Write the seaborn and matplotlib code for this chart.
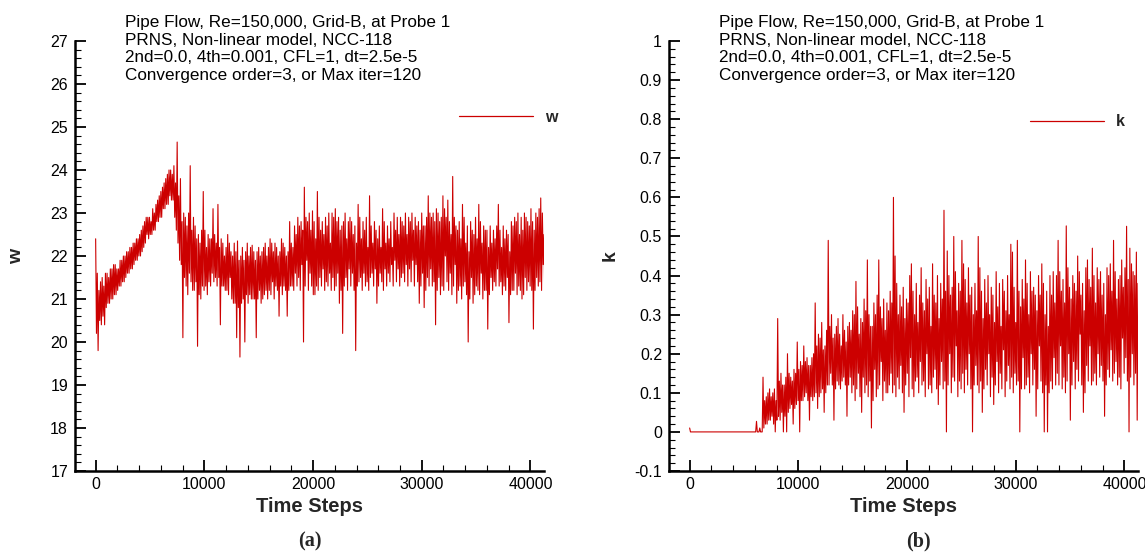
import numpy as np
import pandas as pd
import matplotlib
matplotlib.use("Agg")
import matplotlib.pyplot as plt
from matplotlib.ticker import MultipleLocator, AutoMinorLocator, FuncFormatter
import seaborn as sns

# Probe-1 history: for every block of STEP solver time steps the local
# peak (first half-block) and trough (second half-block) are stored.
STEP = 150

w_peaks = [
    22.4, 21.6, 21.2, 21.4, 21.5, 21.3, 21.6, 21.6, 21.5, 21.7, 21.7, 21.8, 21.8, 21.7,
    21.7, 21.9, 21.9, 22.0, 22.0, 22.1, 22.1, 22.2, 22.2, 22.3, 22.3, 22.4, 22.4,
    22.5, 22.6, 22.7, 22.8, 22.9, 22.9, 22.9, 22.8, 23.1, 23.0, 23.2, 23.3, 23.4,
    23.5, 23.6, 23.7, 23.8, 23.9, 24.0, 24.0, 23.9, 24.1, 23.7, 24.65, 23.4, 23.8,
    22.8, 23.0, 22.9, 22.7, 23.0, 24.1, 22.6, 22.9, 22.7, 22.4, 22.5, 22.3, 22.6,
    23.5, 22.6, 22.2,
    22.5, 22.4, 22.4, 23.1, 22.5, 22.3, 23.2, 22.2, 22.4, 22.3, 22.0, 22.2, 22.5,
    22.3, 22.1, 22.0,
    22.3, 22.1, 22.35, 21.9, 22.0, 22.2, 21.9, 22.1, 22.3, 22.0, 22.2, 22.25, 22.1,
    21.9, 22.1, 22.2, 22.0, 22.1, 22.2, 22.3, 22.0,
    22.2, 22.4, 22.3, 22.1, 22.3, 22.2, 22.0, 22.1, 22.4, 22.3, 22.2, 22.0, 22.1,
    22.8, 22.3, 22.2,
    22.7, 22.5, 22.9, 22.7, 22.8, 22.6, 23.6, 22.9, 22.8, 23.0, 22.6, 23.05,
    22.8, 22.4, 23.5, 22.9, 22.6, 22.8, 22.5, 22.9, 22.7, 23.0, 22.3,
    23.0, 22.9, 23.1, 22.8, 22.9, 22.6, 22.7, 22.8, 23.0, 22.4, 22.8, 22.9,
    22.8, 22.5, 22.7, 22.3, 23.2, 22.9, 22.4, 22.8, 22.6, 22.9, 22.2, 23.4,
    22.7, 22.3, 22.8, 22.6, 22.4, 22.7, 22.2, 23.1, 22.8, 22.3, 22.7, 22.4, 22.8, 22.2,
    23.0, 22.6, 22.9, 22.5, 22.9, 22.8, 22.7, 23.0, 22.5, 22.9, 22.8, 23.0, 22.6,
    22.9, 22.7,
    22.8, 22.6, 23.0, 22.7, 22.7, 22.9, 23.4, 23.0,
    22.9, 23.0, 22.8, 23.1, 23.0, 22.8, 22.9, 23.4, 23.1,
    22.9, 23.3, 22.8, 22.5, 23.85, 22.9, 22.7, 22.6, 22.8, 22.4, 23.2, 22.9, 22.3,
    22.7, 22.1,
    22.8, 22.6, 22.5, 22.9, 22.4, 23.2, 22.8, 22.3, 22.7, 22.6, 22.6, 22.2, 22.7,
    22.3, 22.6, 22.4, 22.7, 23.2, 22.6, 22.2, 22.7, 22.4, 22.6, 22.5, 22.1,
    22.8, 22.7, 22.9, 22.8, 23.0, 22.5, 22.9, 22.6, 23.0, 22.9, 22.8, 22.7, 23.1,
    22.8, 22.6, 23.0, 22.9, 23.1, 23.35, 23.0, 22.5,
]

w_troughs = [
    20.2, 19.8, 20.5, 20.4, 20.6, 20.4, 20.8, 20.9, 20.9, 21.0, 21.0, 21.1, 21.1, 21.2,
    21.3, 21.3, 21.4, 21.4, 21.5, 21.6, 21.6, 21.7, 21.7, 21.8, 21.9, 21.9, 22.0,
    22.0, 22.1, 22.2, 22.3, 22.5, 22.4, 22.5, 22.5, 22.6, 22.6, 22.8, 22.8, 22.9,
    22.9, 23.1, 23.1, 23.2, 23.2, 23.4, 23.3, 23.3, 22.9, 22.6, 22.3, 21.9, 21.8,
    20.1, 21.5, 21.3, 21.1, 21.6, 21.4, 21.2, 21.2, 21.4, 19.9, 21.1, 21.0, 21.3,
    21.2, 21.3, 21.1,
    21.4, 21.3, 21.6, 21.4, 21.5, 21.3, 21.5, 20.4, 21.3, 21.3, 21.2, 21.2, 21.1,
    21.5, 21.0, 20.9,
    20.9, 20.1, 20.8, 19.65, 20.9, 21.0, 20.0, 21.1, 20.9, 21.1, 21.0, 21.0, 21.0,
    20.1, 21.0, 21.2, 20.9, 21.0, 21.1, 21.2, 21.0,
    21.2, 21.1, 21.4, 21.0, 21.3, 21.2, 20.6, 21.3, 21.1, 21.3, 21.2, 20.6, 21.2,
    21.3, 21.3, 21.2,
    21.6, 21.3, 21.5, 21.2, 21.8, 20.0, 21.3, 21.9, 21.2, 21.6, 21.3, 21.1,
    21.1, 21.3, 21.2, 21.5, 21.3, 21.7, 21.2, 21.4, 21.3, 21.6, 21.2,
    21.5, 21.2, 21.3, 21.6, 20.9, 21.2, 20.2, 21.3, 21.5, 21.2, 21.7, 21.3,
    21.6, 21.2, 19.8, 21.3, 21.4, 21.5, 21.2, 21.6, 21.3, 21.4, 21.2, 21.5,
    21.6, 21.3, 21.7, 20.9, 21.3, 21.6, 21.4, 21.2, 21.7, 21.3, 21.6, 21.4, 21.8, 21.3,
    21.9, 21.4, 21.7, 21.3, 21.5, 21.6, 21.4, 21.8, 21.3, 21.7, 21.4, 21.9, 21.3,
    21.8, 21.4,
    20.9, 21.3, 21.6, 20.8, 21.2, 21.5, 21.3, 21.7,
    21.3, 21.4, 20.4, 21.2, 21.5, 21.1, 21.3, 21.2, 22.0,
    21.4, 21.2, 21.6, 21.1, 21.3, 21.8, 20.9, 21.2, 21.3, 21.0, 21.3, 21.4, 21.1,
    20.0, 21.0,
    21.5, 20.9, 21.1, 21.3, 21.2, 21.1, 21.6, 21.0, 21.2, 21.2, 20.3, 21.1, 21.5,
    21.2, 21.4, 21.3, 21.7, 21.3, 21.4, 21.1, 21.3, 21.2, 21.5, 20.45, 21.1,
    21.2, 21.2, 21.6, 21.1, 21.3, 21.2, 21.0, 21.1, 21.5, 21.2, 21.4, 21.3, 21.2,
    20.3, 21.2, 21.5, 21.3, 21.4, 21.2, 21.8, 20.9,
]

k_peaks = [
    0.01, 0.0, 0.0, 0.0, 0.0, 0.0, 0.0, 0.0, 0.0, 0.0,
    0.0, 0.0, 0.0, 0.0, 0.0, 0.0, 0.0, 0.0, 0.0, 0.0,
    0.0, 0.0, 0.0, 0.0, 0.0, 0.0, 0.0, 0.0, 0.0, 0.0,
    0.0, 0.0, 0.0, 0.0, 0.0, 0.0, 0.0, 0.0, 0.0, 0.0,
    0.0, 0.027, 0.0, 0.01, 0.0,
    0.14, 0.08, 0.09, 0.10, 0.11, 0.09, 0.10, 0.11, 0.08, 0.29,
    0.13, 0.15, 0.12, 0.12, 0.14, 0.20, 0.15, 0.14, 0.13, 0.16, 0.15, 0.23, 0.16,
    0.18, 0.17, 0.22, 0.18, 0.19, 0.17, 0.17, 0.19, 0.20,
    0.33, 0.22, 0.25, 0.24, 0.28, 0.21, 0.22, 0.26, 0.49, 0.27,
    0.30, 0.24, 0.25, 0.27, 0.29, 0.25, 0.22, 0.30, 0.26, 0.23, 0.27, 0.28,
    0.26, 0.31, 0.30, 0.385, 0.32, 0.25, 0.29, 0.28, 0.34, 0.31, 0.44, 0.30,
    0.27, 0.27, 0.33, 0.30, 0.35, 0.44, 0.32, 0.29, 0.34, 0.26, 0.33, 0.31,
    0.36, 0.33, 0.60, 0.45, 0.38, 0.30, 0.35, 0.32, 0.37, 0.29, 0.34, 0.33, 0.40,
    0.43, 0.36, 0.30, 0.38, 0.28, 0.35, 0.42, 0.33, 0.31, 0.39, 0.34, 0.37, 0.27,
    0.43, 0.35, 0.33, 0.40, 0.29,
    0.38, 0.34, 0.567, 0.36, 0.463, 0.40, 0.35, 0.37, 0.50, 0.41, 0.31, 0.38, 0.36,
    0.49, 0.43, 0.39, 0.33, 0.42, 0.35, 0.37, 0.30,
    0.38, 0.31, 0.50, 0.42, 0.36, 0.29, 0.39, 0.33, 0.40, 0.30, 0.37, 0.35, 0.28,
    0.41, 0.32, 0.38, 0.27, 0.39, 0.36, 0.31, 0.40, 0.30, 0.48, 0.46, 0.37, 0.28,
    0.49, 0.36, 0.32,
    0.39, 0.34, 0.44, 0.38, 0.30, 0.41, 0.36, 0.37, 0.35, 0.31, 0.40, 0.35, 0.43,
    0.38, 0.30, 0.36, 0.27, 0.40, 0.35, 0.41, 0.33,
    0.40, 0.49, 0.41, 0.36, 0.39, 0.33, 0.527, 0.42, 0.37, 0.34, 0.40, 0.38, 0.36,
    0.45, 0.41, 0.35, 0.38, 0.31, 0.42, 0.44, 0.39, 0.37,
    0.47, 0.40, 0.33, 0.42, 0.39, 0.41, 0.35, 0.38, 0.30, 0.42, 0.40, 0.43, 0.36,
    0.49, 0.41, 0.34, 0.39, 0.40, 0.44, 0.37, 0.42, 0.526, 0.39, 0.47, 0.43, 0.41,
    0.40, 0.46, 0.38,
]

k_troughs = [
    0.0, 0.0, 0.0, 0.0, 0.0, 0.0, 0.0, 0.0, 0.0, 0.0,
    0.0, 0.0, 0.0, 0.0, 0.0, 0.0, 0.0, 0.0, 0.0, 0.0,
    0.0, 0.0, 0.0, 0.0, 0.0, 0.0, 0.0, 0.0, 0.0, 0.0,
    0.0, 0.0, 0.0, 0.0, 0.0, 0.0, 0.0, 0.0, 0.0, 0.0,
    0.0, 0.0, 0.0, 0.0, 0.0,
    0.01, 0.02, 0.02, 0.03, 0.03, 0.04, 0.02, 0.0, 0.03, 0.04,
    0.03, 0.05, 0.0, 0.04, 0.0, 0.05, 0.06, 0.07, 0.02, 0.06, 0.07, 0.08, 0.0,
    0.08, 0.08, 0.09, 0.10, 0.08, 0.03, 0.09, 0.08, 0.09,
    0.10, 0.06, 0.09, 0.10, 0.11, 0.05, 0.10, 0.12, 0.12, 0.15,
    0.12, 0.03, 0.11, 0.13, 0.12, 0.11, 0.13, 0.14, 0.12, 0.04, 0.12, 0.14,
    0.10, 0.12, 0.08, 0.11, 0.15, 0.09, 0.05, 0.14, 0.10, 0.12, 0.09, 0.13,
    0.01, 0.08, 0.16, 0.09, 0.11, 0.12, 0.18, 0.08, 0.13, 0.10, 0.10, 0.12,
    0.15, 0.10, 0.12, 0.09, 0.14, 0.11, 0.17, 0.10, 0.05, 0.12, 0.15, 0.09, 0.19,
    0.11, 0.09, 0.13, 0.14, 0.10, 0.18, 0.12, 0.13, 0.09, 0.20, 0.11, 0.12, 0.10,
    0.14, 0.16, 0.11, 0.07, 0.12,
    0.18, 0.11, 0.13, 0.0, 0.12, 0.20, 0.10, 0.14, 0.13, 0.22, 0.09, 0.13, 0.11,
    0.15, 0.10, 0.16, 0.12, 0.20, 0.11, 0.0, 0.12,
    0.17, 0.12, 0.10, 0.13, 0.05, 0.11, 0.16, 0.12, 0.20, 0.09, 0.14, 0.07, 0.12,
    0.18, 0.10, 0.15, 0.11, 0.21, 0.09, 0.13, 0.17, 0.11, 0.14, 0.10, 0.15, 0.12,
    0.13, 0.0, 0.11,
    0.19, 0.11, 0.12, 0.14, 0.10, 0.20, 0.12, 0.16, 0.04, 0.11, 0.22, 0.13, 0.10,
    0.0, 0.12, 0.0, 0.10, 0.13, 0.11, 0.19, 0.12,
    0.15, 0.12, 0.22, 0.11, 0.14, 0.10, 0.13, 0.20, 0.03, 0.12, 0.18, 0.11, 0.16,
    0.13, 0.25, 0.12, 0.05, 0.10, 0.17, 0.13, 0.22, 0.12,
    0.13, 0.15, 0.12, 0.20, 0.14, 0.17, 0.13, 0.04, 0.12, 0.16, 0.14, 0.21, 0.13,
    0.15, 0.18, 0.12, 0.14, 0.11, 0.24, 0.15, 0.19, 0.13, 0.0, 0.14, 0.20, 0.12,
    0.15, 0.03, 0.16,
]

header_lines = [
    "Pipe Flow, Re=150,000, Grid-B, at Probe 1",
    "PRNS, Non-linear model, NCC-118",
    "2nd=0.0, 4th=0.001, CFL=1, dt=2.5e-5",
    "Convergence order=3, or Max iter=120",
]

RED = "#cc0000"
W_PX, H_PX = 1145, 553


def history_frame(peaks, troughs, name):
    """Interleave block peaks and troughs into one time history."""
    n = min(len(peaks), len(troughs))
    values = np.column_stack([peaks[:n], troughs[:n]]).ravel()
    steps = np.arange(values.size) * (STEP // 2)
    return pd.DataFrame({"Time Steps": steps, name: values})


sns.set_style("ticks")
plt.rcParams["font.family"] = ["Liberation Sans", "DejaVu Sans"]
plt.rcParams["axes.unicode_minus"] = False

fig = plt.figure(figsize=(W_PX / 100, H_PX / 100), dpi=100)


def rect(x0, x1, ytop, ybot):
    return [x0 / W_PX, 1 - ybot / H_PX, (x1 - x0) / W_PX, (ybot - ytop) / H_PX]


ax_w = fig.add_axes(rect(75, 544, 41, 471))
ax_k = fig.add_axes(rect(669, 1138, 41, 471))

df_w = history_frame(w_peaks, w_troughs, "w")
df_k = history_frame(k_peaks, k_troughs, "k")

sns.lineplot(data=df_w, x="Time Steps", y="w", ax=ax_w, color=RED,
             linewidth=0.8, estimator=None, label="w")
sns.lineplot(data=df_k, x="Time Steps", y="k", ax=ax_k, color=RED,
             linewidth=0.8, estimator=None, label="k")

fmt = FuncFormatter(lambda v, p: f"{round(v, 6) + 0.0:g}")


def style_axes(ax, ylim, ymajor, ylabel, legend_xy):
    ax.set_xlim(-1900, 41250)
    ax.set_ylim(*ylim)
    ax.xaxis.set_major_locator(MultipleLocator(10000))
    ax.xaxis.set_minor_locator(MultipleLocator(2000))
    ax.yaxis.set_major_locator(MultipleLocator(ymajor))
    ax.yaxis.set_minor_locator(AutoMinorLocator(5))
    ax.yaxis.set_major_formatter(fmt)
    ax.xaxis.set_major_formatter(fmt)
    for side in ("top", "right"):
        ax.spines[side].set_visible(False)
    for side in ("left", "bottom"):
        ax.spines[side].set_linewidth(1.8)
        ax.spines[side].set_color("black")
    ax.tick_params(which="major", direction="in", length=8, width=1.3,
                   labelsize=11.5, colors="black")
    ax.tick_params(which="minor", direction="in", length=4.5, width=0.8,
                   colors="black")
    ax.tick_params(axis="y", which="major", pad=5)
    ax.tick_params(axis="x", which="major", pad=4)
    ax.set_xlabel("Time Steps", fontsize=14.5, fontweight="bold")
    ax.xaxis.set_label_coords(0.5, -0.06)
    ax.set_ylabel(ylabel, fontsize=14, fontweight="bold")
    ax.yaxis.set_label_coords(-0.107, 0.5)
    leg = ax.legend(loc="center left", bbox_to_anchor=legend_xy, frameon=False,
                    handlelength=4.6, handletextpad=0.75, borderpad=0,
                    borderaxespad=0, prop={"weight": "bold", "size": 11.5})
    for handle in leg.get_lines():
        handle.set_linewidth(0.9)


style_axes(ax_w, (17, 27), 1, "w", (0.819, 0.823))
style_axes(ax_k, (-0.1, 1.0), 0.1, "k", (0.770, 0.812))

# Run description above each panel
baselines = [27.3, 44.7, 62.1, 79.5]
for x_px in (125, 719):
    for line, yb in zip(header_lines, baselines):
        fig.text(x_px / W_PX, 1 - yb / H_PX, line, fontsize=12.3,
                 ha="left", va="baseline", color="black")

# Panel tags
for x_px, tag in ((310, "(a)"), (918, "(b)")):
    fig.text(x_px / W_PX, 1 - 541.5 / H_PX, tag, ha="center", va="center",
             fontsize=14.5, fontweight="bold", family="Liberation Serif")

fig.savefig("out.png", dpi=100)
